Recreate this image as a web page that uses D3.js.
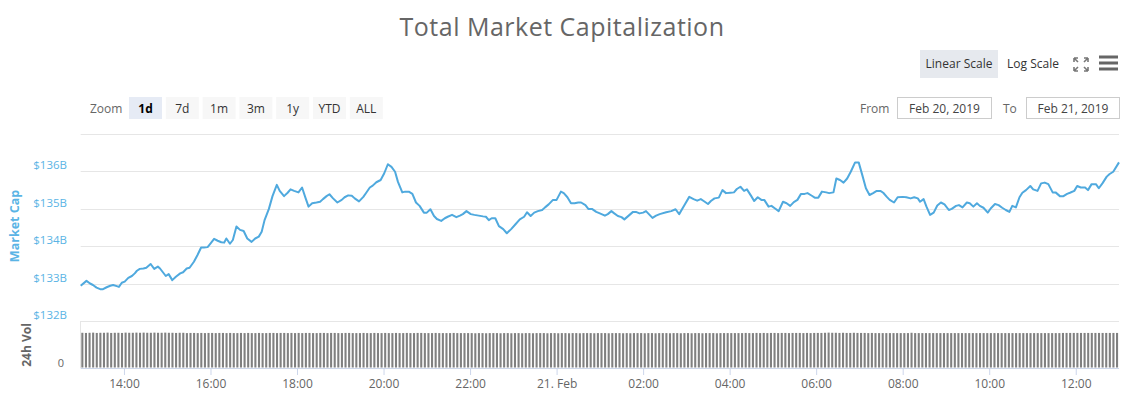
<!DOCTYPE html>
<html>
<head>
<meta charset="utf-8">
<script src="https://cdn.jsdelivr.net/npm/d3@7"></script>
<style>
  body { margin: 0; background: #fff; }
  svg { display: block; font-family: "Open Sans", sans-serif; }
</style>
</head>
<body>
<div id="chart"></div>
<script>
// market cap, [minutes after 13:00 Feb 20, value in $B]
var capSeries = [
  [0,132.94],[8,133.07],[13,133.0],[17,132.96],[22,132.89],[27,132.85],[31,132.85],[36,132.9],[41,132.94],[45,132.96],
  [50,132.93],[53,132.91],[57,133.02],[61,133.05],[66,133.15],[71,133.2],[75,133.27],[78,133.34],[82,133.39],[87,133.4],
  [91,133.42],[97,133.52],[102,133.39],[107,133.45],[110,133.4],[114,133.3],[118,133.2],[122,133.25],[127,133.09],[132,133.18],
  [138,133.27],[142,133.3],[147,133.4],[151,133.42],[157,133.58],[162,133.76],[167,133.96],[171,133.96],[176,133.97],[181,134.09],
  [185,134.19],[190,134.14],[195,134.1],[199,134.09],[202,134.2],[207,134.06],[211,134.16],[216,134.52],[221,134.43],[226,134.4],
  [231,134.2],[237,134.11],[242,134.2],[247,134.25],[251,134.38],[255,134.69],[261,134.99],[266,135.33],[272,135.63],[276,135.47],
  [282,135.33],[287,135.42],[291,135.51],[296,135.47],[302,135.43],[307,135.56],[312,135.27],[316,135.05],[321,135.14],[327,135.16],
  [332,135.18],[336,135.25],[341,135.33],[345,135.38],[350,135.27],[356,135.16],[362,135.23],[366,135.3],[371,135.35],[376,135.34],
  [380,135.27],[386,135.19],[392,135.31],[396,135.42],[401,135.56],[405,135.61],[410,135.7],[416,135.76],[421,135.94],[426,136.18],
  [431,136.11],[436,135.98],[440,135.71],[446,135.43],[450,135.45],[455,135.45],[460,135.39],[465,135.16],[470,135.07],[476,134.89],
  [480,134.89],[485,134.98],[490,134.8],[494,134.72],[500,134.67],[505,134.74],[509,134.78],[515,134.83],[521,134.77],[526,134.81],
  [530,134.85],[535,134.93],[541,134.85],[546,134.83],[552,134.81],[558,134.79],[562,134.78],[566,134.69],[570,134.74],[575,134.74],
  [580,134.53],[586,134.45],[591,134.34],[597,134.45],[603,134.58],[609,134.71],[615,134.78],[619,134.9],[624,134.8],[629,134.89],
  [634,134.93],[640,134.96],[644,135.03],[649,135.11],[655,135.23],[660,135.23],[666,135.45],[670,135.41],[675,135.3],[680,135.14],
  [685,135.14],[690,135.16],[694,135.16],[700,135.09],[704,134.99],[709,134.99],[715,134.91],[720,134.87],[727,134.81],[731,134.85],
  [736,134.93],[740,134.87],[745,134.8],[750,134.77],[754,134.71],[760,134.81],[766,134.91],[770,134.91],[775,134.87],[780,134.89],
  [784,134.93],[789,134.83],[793,134.75],[798,134.81],[803,134.85],[812,134.9],[819,134.93],[825,134.98],[830,134.85],[837,135.08],
  [844,135.31],[850,135.25],[855,135.21],[860,135.25],[864,135.2],[870,135.12],[874,135.2],[879,135.27],[885,135.29],[890,135.49],
  [895,135.41],[901,135.42],[906,135.43],[910,135.52],[915,135.58],[920,135.47],[924,135.51],[930,135.33],[934,135.2],[939,135.3],
  [944,135.23],[948,135.23],[954,135.05],[958,135.07],[963,135.0],[968,134.93],[974,135.18],[979,135.14],[984,135.07],[989,135.17],
  [994,135.23],[999,135.39],[1004,135.39],[1008,135.41],[1014,135.34],[1018,135.29],[1023,135.29],[1028,135.45],[1034,135.43],[1038,135.41],
  [1044,135.43],[1048,135.8],[1053,135.76],[1058,135.69],[1063,135.8],[1068,135.98],[1074,136.23],[1079,136.23],[1084,135.89],[1089,135.54],
  [1094,135.36],[1099,135.41],[1104,135.47],[1109,135.47],[1113,135.42],[1118,135.31],[1122,135.23],[1128,135.16],[1133,135.3],[1140,135.31],
  [1145,135.3],[1151,135.27],[1156,135.3],[1161,135.27],[1164,135.18],[1169,135.25],[1173,135.05],[1178,134.83],[1183,134.89],[1188,135.08],
  [1193,135.16],[1198,135.11],[1204,134.96],[1208,134.99],[1214,135.07],[1218,135.09],[1223,135.03],[1229,135.16],[1233,135.14],[1238,135.05],
  [1243,135.14],[1247,135.07],[1252,135.02],[1258,134.89],[1262,135.0],[1268,135.12],[1273,135.09],[1278,135.02],[1283,134.96],[1288,134.91],
  [1292,135.07],[1297,135.03],[1302,135.3],[1306,135.42],[1311,135.49],[1317,135.6],[1321,135.51],[1327,135.47],[1332,135.67],[1337,135.69],
  [1342,135.65],[1348,135.43],[1352,135.43],[1358,135.33],[1363,135.33],[1368,135.39],[1372,135.42],[1378,135.47],[1382,135.6],[1387,135.56],
  [1393,135.56],[1397,135.49],[1402,135.65],[1408,135.65],[1412,135.54],[1417,135.67],[1423,135.85],[1427,135.92],[1432,135.98],[1440,136.23]
];

// 24h volume in $B, one bar per 5 minutes (12 per hour)
var volume = [
  22.4,22.3,22.4,22.5,22.3,22.4,22.4,22.5,22.3,22.4,22.4,22.3,
  22.5,22.4,22.4,22.5,22.4,22.5,22.4,22.4,22.5,22.4,22.4,22.5,
  22.4,22.4,22.3,22.4,22.4,22.2,22.3,22.3,22.2,22.3,22.2,22.3,
  22.3,22.2,22.3,22.3,22.2,22.3,22.2,22.2,22.3,22.2,22.3,22.2,
  22.2,22.3,22.2,22.2,22.3,22.3,22.2,22.3,22.3,22.2,22.3,22.2,
  22.3,22.2,22.3,22.3,22.2,22.2,22.3,22.3,22.2,22.3,22.3,22.2,
  22.2,22.3,22.3,22.2,22.2,22.2,22.3,22.2,22.2,22.3,22.2,22.2,
  22.3,22.2,22.2,22.3,22.2,22.2,22.3,22.2,22.2,22.3,22.3,22.2,
  22.2,22.2,22.3,22.2,22.2,22.2,22.2,22.3,22.2,22.2,22.2,22.2,
  22.2,22.1,22.2,22.2,22.1,22.2,22.2,22.2,22.1,22.2,22.2,22.1,
  22.2,22.2,22.1,22.2,22.2,22.1,22.2,22.2,22.2,22.1,22.2,22.2,
  22.1,22.2,22.2,22.1,22.2,22.2,22.1,22.2,22.2,22.2,22.1,22.2,
  22.2,22.2,22.1,22.2,22.2,22.2,22.1,22.2,22.1,22.2,22.2,22.2,
  22.1,22.2,22.2,22.1,22.2,22.2,22.2,22.1,22.2,22.2,22.1,22.2,
  22.2,22.1,22.2,22.2,22.1,22.2,22.2,22.2,22.1,22.2,22.2,22.2,
  22.2,22.2,22.2,22.2,22.3,22.2,22.2,22.3,22.2,22.3,22.2,22.3,
  22.3,22.2,22.3,22.3,22.2,22.3,22.3,22.3,22.2,22.3,22.2,22.3,
  22.3,22.3,22.4,22.5,22.4,22.4,22.3,22.4,22.3,22.3,22.4,22.3,
  22.3,22.3,22.2,22.3,22.2,22.2,22.2,22.2,22.2,22.2,22.2,22.2,
  22.2,22.2,22.4,22.2,22.2,22.2,22.2,22.2,22.2,22.2,22.2,22.2,
  22.2,22.2,22.2,22.2,22.2,22.2,22.2,22.2,22.2,22.2,22.2,22.2,
  22.2,22.2,22.2,22.2,22.2,22.2,22.2,22.2,22.2,22.2,22.2,22.2,
  22.2,22.2,22.2,22.2,22.2,22.2,22.2,22.2,22.3,22.3,22.3,22.3,
  22.3,22.3,22.3,22.3,22.3,22.3,22.3,22.3,22.3,22.3,22.3,22.3
];

var capTicks = [132, 133, 134, 135, 136, 137];
var zoomButtons = ["1d", "7d", "1m", "3m", "1y", "YTD", "ALL"];
var scaleButtons = ["Linear Scale", "Log Scale"];
var fromDate = "Feb 20, 2019", toDate = "Feb 21, 2019";
var dayLabel = "21. Feb";

var start = new Date(2019, 1, 20, 13, 0);
var end = new Date(2019, 1, 21, 13, 0);
function at(min) { return new Date(start.getTime() + min * 60000); }

var W = 1129, H = 397;
var svg = d3.select("#chart").append("svg").attr("width", W).attr("height", H);

var x = d3.scaleTime().domain([start, end]).range([80.7, 1119]);
var y = d3.scaleLinear().domain([132, 137]).range([321, 133.5]);
var yv = d3.scaleLinear().domain([0, 30]).range([367.5, 321]);

// title
svg.append("text")
   .attr("x", 562).attr("y", 36)
   .attr("text-anchor", "middle")
   .style("font-size", "25px")
   .style("letter-spacing", "0.5px")
   .style("fill", "#666")
   .text("Total Market Capitalization");

// scale buttons
svg.append("rect").attr("x", 920).attr("y", 50).attr("width", 78).attr("height", 28)
   .attr("fill", "#e6e9ee");
svg.append("text").attr("x", 959).attr("y", 67.5).attr("text-anchor", "middle")
   .style("font-size", "12px").style("fill", "#333").text(scaleButtons[0]);
svg.append("text").attr("x", 1033).attr("y", 67.5).attr("text-anchor", "middle")
   .style("font-size", "12px").style("fill", "#333").text(scaleButtons[1]);

// fullscreen icon
var fs = svg.append("g").attr("stroke", "#777").attr("stroke-width", 1.6).attr("fill", "none");
fs.append("path").attr("d", "M1074,58 l4,0 M1074,58 l0,4 M1074,58 l4,4");
fs.append("path").attr("d", "M1088,58 l-4,0 M1088,58 l0,4 M1088,58 l-4,4");
fs.append("path").attr("d", "M1074,71 l4,0 M1074,71 l0,-4 M1074,71 l4,-4");
fs.append("path").attr("d", "M1088,71 l-4,0 M1088,71 l0,-4 M1088,71 l-4,-4");

// menu icon
svg.selectAll("rect.menu").data([57, 63, 69]).enter().append("rect")
   .attr("class", "menu").attr("x", 1099).attr("y", function(d) { return d - 1.5; })
   .attr("width", 19).attr("height", 3).attr("fill", "#666");

// zoom buttons
svg.append("text").attr("x", 90).attr("y", 112.5)
   .style("font-size", "12px").style("fill", "#666").text("Zoom");
var zb = svg.selectAll("g.zb").data(zoomButtons).enter().append("g")
   .attr("transform", function(d, i) { return "translate(" + (129 + i * 36.8) + ",97)"; });
zb.append("rect").attr("width", 33).attr("height", 22)
   .attr("fill", function(d, i) { return i === 0 ? "#e6ebf5" : "#f7f7f7"; });
zb.append("text").attr("x", 16.5).attr("y", 15.5).attr("text-anchor", "middle")
   .style("font-size", "12px")
   .style("font-weight", function(d, i) { return i === 0 ? "bold" : "normal"; })
   .style("fill", function(d, i) { return i === 0 ? "#000" : "#333"; })
   .text(function(d) { return d; });

// from / to inputs
svg.append("text").attr("x", 860).attr("y", 112.5)
   .style("font-size", "12px").style("fill", "#666").text("From");
svg.append("rect").attr("x", 897.5).attr("y", 97.5).attr("width", 94).attr("height", 21)
   .attr("fill", "#fff").attr("stroke", "#ccc");
svg.append("text").attr("x", 944.5).attr("y", 112.5).attr("text-anchor", "middle")
   .style("font-size", "12px").style("fill", "#444").text(fromDate);
svg.append("text").attr("x", 1003).attr("y", 112.5)
   .style("font-size", "12px").style("fill", "#666").text("To");
svg.append("rect").attr("x", 1026.5).attr("y", 97.5).attr("width", 93).attr("height", 21)
   .attr("fill", "#fff").attr("stroke", "#ccc");
svg.append("text").attr("x", 1073).attr("y", 112.5).attr("text-anchor", "middle")
   .style("font-size", "12px").style("fill", "#444").text(toDate);

// grid lines
svg.selectAll("line.grid").data(capTicks).enter().append("line")
   .attr("x1", 80.7).attr("x2", 1119)
   .attr("y1", function(d) { return Math.round(y(d)) + 0.5; })
   .attr("y2", function(d) { return Math.round(y(d)) + 0.5; })
   .style("stroke", "#e6e6e6");

// y labels
svg.selectAll("text.ylab").data(capTicks.slice(0, 5)).enter().append("text")
   .attr("x", 67).attr("y", function(d) { return y(d) - 2; })
   .attr("text-anchor", "end")
   .style("font-size", "11.5px").style("fill", "#5ab4e5")
   .text(function(d) { return "$" + d + "B"; });

svg.append("text")
   .attr("transform", "translate(19,226) rotate(-90)")
   .attr("text-anchor", "middle")
   .style("font-size", "12.5px").style("font-weight", "bold").style("fill", "#5ab4e5")
   .text("Market Cap");

// volume pane
svg.append("line").attr("x1", 80.5).attr("x2", 80.5).attr("y1", 321).attr("y2", 368)
   .style("stroke", "#e6e6e6");
svg.append("text")
   .attr("transform", "translate(31,345) rotate(-90)")
   .attr("text-anchor", "middle")
   .style("font-size", "12px").style("font-weight", "bold").style("fill", "#666")
   .text("24h Vol");
svg.append("text").attr("x", 64).attr("y", yv(0) - 1).attr("text-anchor", "end")
   .style("font-size", "11px").style("fill", "#666").text("0");

var step = x(at(5)) - x(at(0));
svg.selectAll("rect.vol").data(volume).enter().append("rect")
   .attr("x", function(d, i) { return x(at(i * 5)) + 0.6; })
   .attr("y", function(d) { return yv(d); })
   .attr("width", step * 0.58)
   .attr("height", function(d) { return yv(0) - yv(d); })
   .attr("fill", "#808080");

// line
var line = d3.line()
   .x(function(d) { return x(at(d[0])); })
   .y(function(d) { return y(d[1]); });
svg.append("path").datum(capSeries)
   .attr("d", line)
   .attr("fill", "none")
   .attr("stroke", "#4fa9de")
   .attr("stroke-width", 2)
   .attr("stroke-linejoin", "round");

// x axis
var xAxis = d3.axisBottom(x)
   .ticks(d3.timeHour.every(2))
   .tickSize(7)
   .tickFormat(function(d) { return d.getHours() === 0 ? dayLabel : d3.timeFormat("%H:%M")(d); });
var gx = svg.append("g").attr("transform", "translate(0,368)").call(xAxis);
gx.select(".domain").attr("d", "M80.7,0.5H1119").style("stroke", "#ccd6eb");
gx.selectAll(".tick line").style("stroke", "#ccd6eb");
gx.selectAll(".tick text").attr("y", 11).style("font-size", "12px").style("fill", "#666")
   .style("font-family", "'Open Sans', sans-serif");
</script>
</body>
</html>
